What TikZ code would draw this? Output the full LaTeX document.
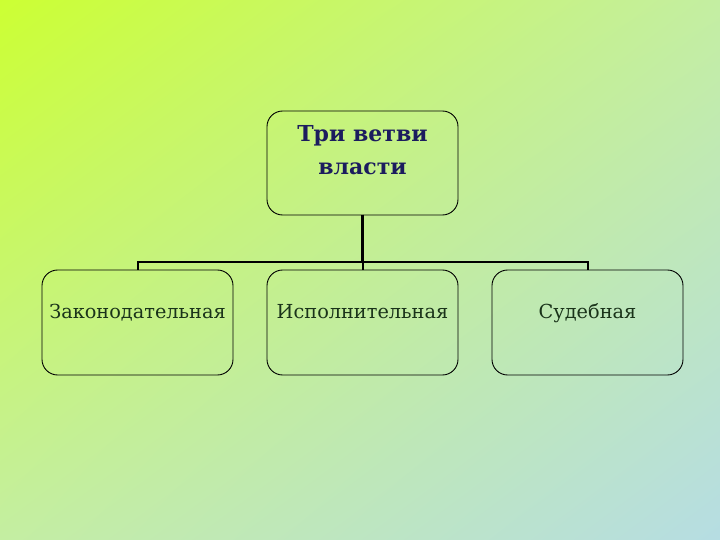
\documentclass[tikz,border=0pt]{standalone}
\usepackage{fontspec}
\setmainfont{DejaVu Serif}
\usepackage{tikz}
\usetikzlibrary{shadings}
\definecolor{bgtopleft}{HTML}{CCFF33}
\definecolor{bgmiddle}{HTML}{C4EEA2}
\definecolor{bgbottomright}{HTML}{B6DDE3}
\definecolor{roottext}{HTML}{1C1C5E}
\definecolor{branchtext}{HTML}{1A331A}
\tikzset{
    rootnode/.style = {
        align=center,
        rectangle,
        rounded corners=5.5mm,
        draw=black,
        line width=0.9pt,
        minimum width=191pt,
        minimum height=104pt,
        text=roottext,
        font=\fontsize{22}{33}\selectfont\bfseries,
        text height=51pt,
        text depth=27pt,
        inner sep=0pt,
        outer sep=0pt
    },
    branchnode/.style = {
        rootnode,
        text=branchtext,
        font=\fontsize{19.3}{22}\selectfont,
        text height=13pt,
        text depth=22pt,
        minimum height=105pt
    }
}

\begin{document}
\begin{tikzpicture}[x=1pt, y=1pt,
                level distance = 159.5pt,
                sibling distance = 225pt,
                edge from parent/.style = {draw, line width=2pt, black},
                edge from parent path = {(\tikzparentnode.south) -- ++(0,-47) -| (\tikzchildnode.north)}
            ]
            \shade[upper left=bgtopleft, upper right=bgmiddle,
                   lower left=bgmiddle, lower right=bgbottomright]
                (0,0) rectangle (720,-540);
            \useasboundingbox (0,0) rectangle (720,-540);
            \node [rootnode] (root) at (362.5,-163) {Три ветви\\власти}
                child { node [branchnode] (zakon) {Законодательная} }
                child { node [branchnode] (ispoln) {Исполнительная} }
                child { node [branchnode] (sud) {Судебная} };
            \draw [line width=3pt] (root.south) -- ++(0,-47);
        \end{tikzpicture}
\end{document}
